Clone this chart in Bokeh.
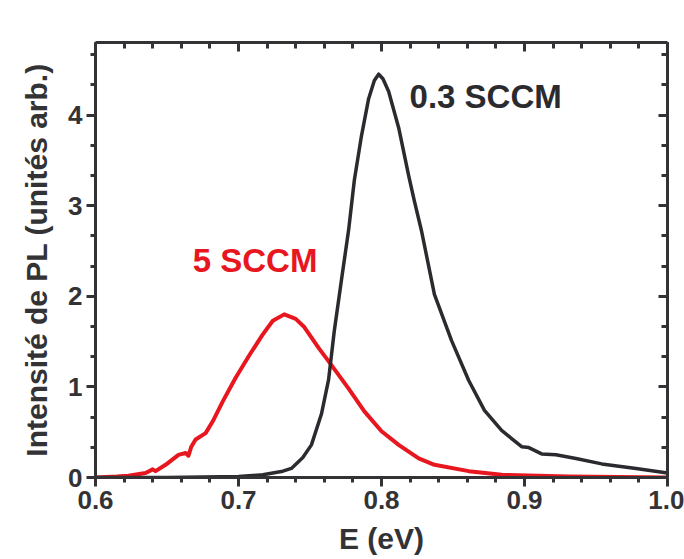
from bokeh.plotting import figure
from bokeh.models import (LinearAxis, Range1d, Label, SingleIntervalTicker,
                          PrintfTickFormatter, CustomJSTickFormatter)
from bokeh.embed import file_html
from bokeh.resources import INLINE

# 0.3 SCCM (black)
e_03 = [0.600, 0.650, 0.700, 0.717, 0.731, 0.737, 0.745, 0.751, 0.758, 0.763, 0.767,
        0.772, 0.777, 0.781, 0.786, 0.791, 0.795, 0.798, 0.801, 0.805, 0.812, 0.819,
        0.823, 0.828, 0.837, 0.849, 0.861, 0.872, 0.884, 0.891, 0.898, 0.903, 0.912,
        0.922, 0.936, 0.954, 0.978, 1.000]
i_03 = [0.00, 0.00, 0.01, 0.03, 0.07, 0.10, 0.22, 0.36, 0.70, 1.08, 1.62,
        2.18, 2.73, 3.28, 3.77, 4.18, 4.38, 4.45, 4.40, 4.26, 3.86, 3.33,
        3.05, 2.72, 2.02, 1.51, 1.07, 0.74, 0.52, 0.43, 0.34, 0.33, 0.26,
        0.25, 0.21, 0.15, 0.10, 0.05]

# 5 SCCM (red)
e_5 = [0.600, 0.615, 0.623, 0.635, 0.640, 0.642, 0.649, 0.658, 0.663, 0.665, 0.667,
       0.670, 0.677, 0.682, 0.689, 0.698, 0.708, 0.717, 0.724, 0.732, 0.740, 0.746,
       0.756, 0.765, 0.777, 0.788, 0.800, 0.812, 0.826, 0.837, 0.861, 0.884, 0.931, 1.000]
i_5 = [0.00, 0.01, 0.02, 0.05, 0.09, 0.07, 0.14, 0.25, 0.27, 0.24, 0.34,
       0.42, 0.49, 0.62, 0.84, 1.10, 1.36, 1.58, 1.73, 1.80, 1.75, 1.66,
       1.43, 1.24, 0.98, 0.73, 0.51, 0.36, 0.21, 0.14, 0.07, 0.03, 0.01, 0.00]

x_lim = [0.6, 1.0]
y_lim = [0.0, 4.8]
x_label = "E (eV)"
y_label = "Intensité de PL (unités arb.)"
series_labels = ["0.3 SCCM", "5 SCCM"]
panel_label = "a)"

AX = "#333336"
BLACK = "#2b2b2f"
RED = "#e8161e"
FONT = "Liberation Sans"

W, H = 684, 559
p = figure(width=W, height=H, output_backend="svg", toolbar_location=None,
           x_range=Range1d(*x_lim), y_range=Range1d(*y_lim),
           x_axis_label=x_label, y_axis_label=y_label,
           min_border_left=95, min_border_right=17, min_border_top=42, min_border_bottom=82)
p.outline_line_color = None
p.background_fill_color = None
p.border_fill_color = None
p.grid.visible = False


def style(ax, labels=True, inward=False):
    ax.axis_line_width = 3
    ax.axis_line_color = AX
    ax.major_tick_line_width = 3
    ax.minor_tick_line_width = 3
    ax.major_tick_line_color = AX
    ax.minor_tick_line_color = AX
    if inward:
        ax.major_tick_in = 9
        ax.major_tick_out = 0
        ax.minor_tick_in = 6
        ax.minor_tick_out = 0
    else:
        ax.major_tick_in = 0
        ax.major_tick_out = 9
        ax.minor_tick_in = 0
        ax.minor_tick_out = 5
    if labels:
        ax.major_label_text_font = FONT
        ax.major_label_text_font_style = "bold"
        ax.major_label_text_font_size = "26px"
        ax.major_label_text_color = AX
        ax.major_label_standoff = 4
        ax.axis_label_text_font = FONT
        ax.axis_label_text_font_style = "bold"
        ax.axis_label_text_font_size = "30px"
        ax.axis_label_text_color = AX
    else:
        ax.formatter = CustomJSTickFormatter(code="return '';")
        ax.major_label_standoff = 0


bottom = p.xaxis[0]
bottom.ticker = SingleIntervalTicker(interval=0.1, num_minor_ticks=5)
bottom.formatter = PrintfTickFormatter(format="%.1f")
style(bottom)
bottom.axis_label_standoff = 10

left = p.yaxis[0]
left.ticker = SingleIntervalTicker(interval=1, num_minor_ticks=3)
style(left)
left.axis_label_standoff = 12

top = LinearAxis(ticker=SingleIntervalTicker(interval=0.1, num_minor_ticks=5))
style(top, labels=False, inward=True)
p.add_layout(top, "above")

right = LinearAxis(ticker=SingleIntervalTicker(interval=1, num_minor_ticks=3))
style(right, labels=False, inward=True)
p.add_layout(right, "right")

# frame box along the range limits (coincides with the axis lines)
p.quad(left=[x_lim[0]], right=[x_lim[1]], bottom=[y_lim[0]], top=[y_lim[1]],
       fill_color=None, line_color=AX, line_width=3)

p.line(e_5, i_5, line_color=RED, line_width=4, line_join="round")
p.line(e_03, i_03, line_color=BLACK, line_width=3.5, line_join="round")

p.add_layout(Label(x=0.8196, y=4.20, text=series_labels[0], text_font=FONT,
                   text_font_style="bold", text_font_size="33px", text_color=BLACK,
                   text_baseline="alphabetic"))
p.add_layout(Label(x=0.668, y=2.40, text=series_labels[1], text_font=FONT,
                   text_font_style="bold", text_font_size="33px", text_color=RED,
                   text_baseline="alphabetic"))
p.add_layout(Label(x=0.5404, y=4.95, text=panel_label,
                   text_font="Liberation Serif", text_font_style="bold",
                   text_font_size="32px", text_color="#222222", text_baseline="alphabetic"))

open("out.html", "w").write(file_html(p, INLINE))
